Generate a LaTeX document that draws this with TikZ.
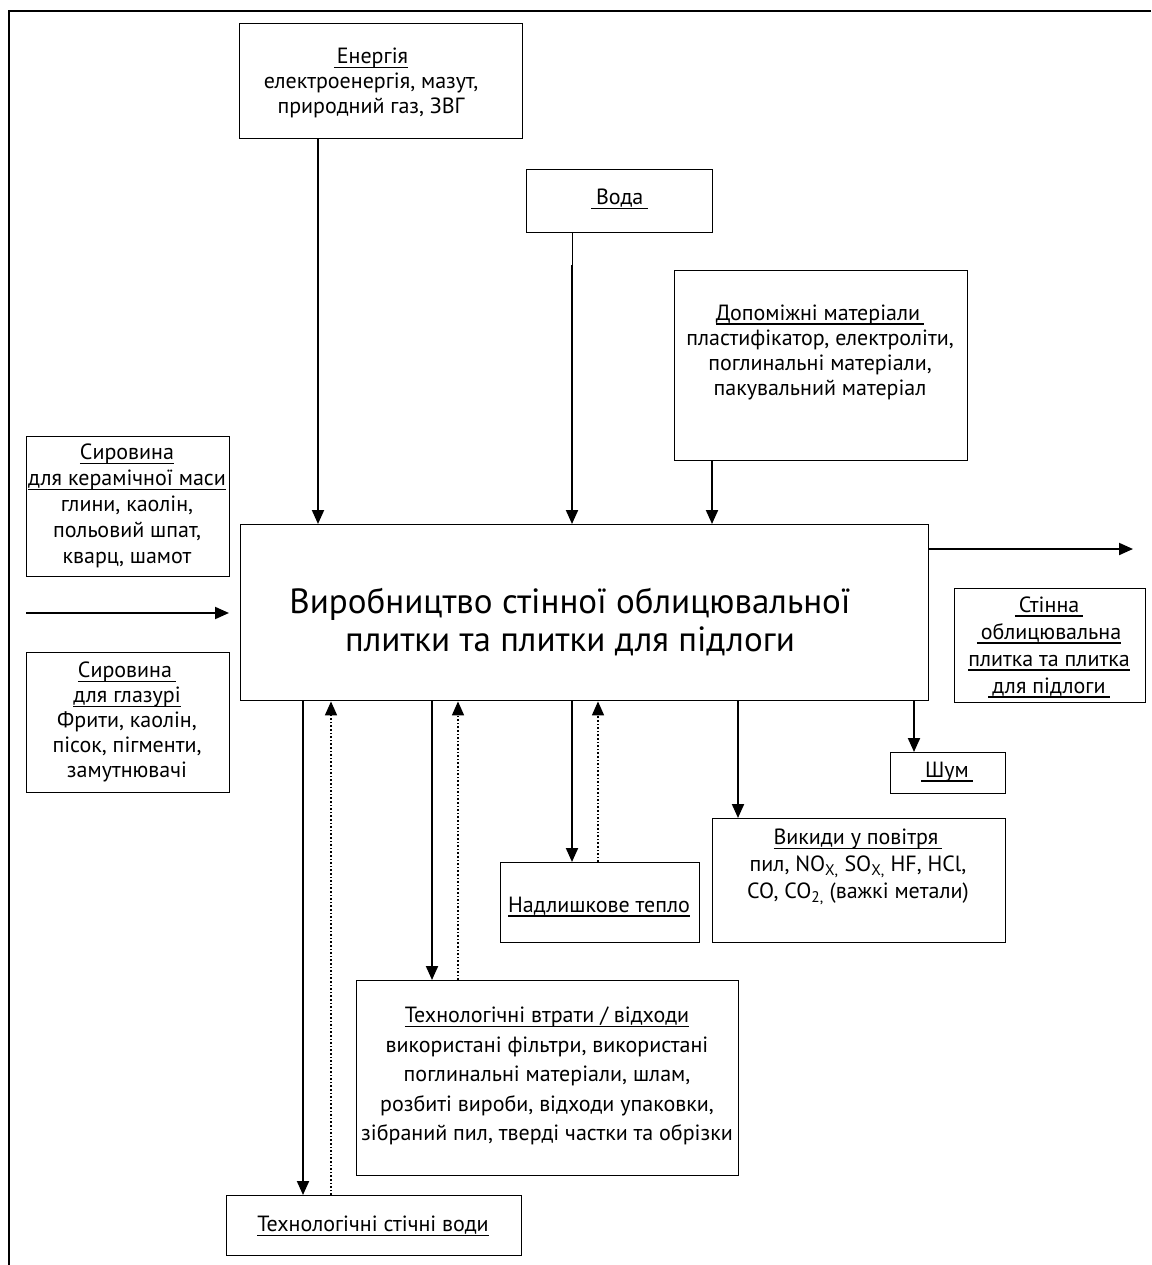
\documentclass[tikz,border=0pt]{standalone}
\usepackage{fontspec}
\setmainfont{PT Sans}
\usetikzlibrary{arrows.meta,calc}

% underline at a fixed depth below the baseline
\newcommand\uln[1]{\setbox0\hbox{#1}\rlap{\rule[-4.5pt]{\wd0}{1.5pt}}\box0}

\tikzset{
  box/.style={draw, line width=1.4pt, inner sep=0pt, anchor=north west},
  txt/.style={align=center, inner sep=0pt, font=\fontsize{22}{25}\selectfont},
  arr/.style={line width=2pt, -{Triangle[length=14pt,width=12pt]}},
  ret/.style={line width=1.6pt, dotted, -{Triangle[length=14pt,width=12pt]}},
}

\begin{document}
\begin{tikzpicture}[x=1pt,y=-1pt]
\useasboundingbox (0,0) rectangle (1151,1265);

% open frame
\draw[line width=1.4pt] (9,1265) -- (9,11) -- (1151,11);

% boxes
\node[box, minimum width=283, minimum height=115] (energy) at (239,23) {};
\node[box, minimum width=186, minimum height=63]  (water)  at (526,169) {};
\node[box, minimum width=293, minimum height=190] (aux)    at (674,270) {};
\node[box, minimum width=688, minimum height=176] (main)   at (240,524) {};
\node[box, minimum width=203, minimum height=140] (ceram)  at (26,436) {};
\node[box, minimum width=203, minimum height=140] (glaze)  at (26,652) {};
\node[box, minimum width=191, minimum height=114] (prod)   at (954,588) {};
\node[box, minimum width=115, minimum height=41]  (noise)  at (890,752) {};
\node[box, minimum width=293, minimum height=124] (air)    at (712,818) {};
\node[box, minimum width=199, minimum height=80]  (heat)   at (500,862) {};
\node[box, minimum width=382, minimum height=195] (waste)  at (356,980) {};
\node[box, minimum width=295, minimum height=60]  (wwater) at (226,1195) {};

% texts
\node[txt] (energyT) at (371,83) {\uln{\hspace{3pt}Енергія}\\електроенергія, мазут,\\природний газ, ЗВГ};
\node[txt] (waterT) at ($(water.center)+(0,-2)$) {\uln{\hspace{5pt}Вода\hspace{5pt}}};
\node[txt] (auxT) at (820,352) {\uln{Допоміжні матеріали\hspace{4pt}}\\пластифікатор, електроліти,\\поглинальні матеріали,\\пакувальний матеріал};
\node[align=center, inner sep=0pt, font=\fontsize{35}{38}\selectfont] (mainT) at (570,622)
  {Виробництво стінної облицювальної\\плитки та плитки для підлоги};
\node[txt, font=\fontsize{22}{26}\selectfont] (ceramT) at (127,506) {\uln{Сировина}\\\uln{для керамічної маси}\\глини, каолін,\\польовий шпат,\\кварц, шамот};
\node[txt] (glazeT) at (127,722) {\uln{Сировина\hspace{4pt}}\\\uln{для глазурі}\\Фрити, каолін,\\пісок, пігменти,\\замутнювачі};
\node[txt, font=\fontsize{22}{27}\selectfont] (prodT) at (1049,647) {\uln{\hspace{4pt}Стінна\hspace{4pt}}\\\uln{\hspace{4pt}облицювальна}\\\uln{плитка та плитка}\\\uln{\hspace{4pt}для підлоги\hspace{4pt}}};
\node[txt] (noiseT) at (947,772) {\uln{\hspace{4pt}Шум\hspace{4pt}}};
\node[txt, font=\fontsize{22}{27}\selectfont] (airT) at (858,867) {\uln{Викиди у повітря\hspace{4pt}}\\пил, NO\textsubscript{X,} SO\textsubscript{X,} HF, HCl,\\CO, CO\textsubscript{2,} (важкі метали)};
\node[txt] (heatT) at (599,907) {\uln{Надлишкове тепло}};
\node[txt, font=\fontsize{22}{29.5}\selectfont] (wasteT) at (547,1076) {\uln{Технологічні втрати / відходи}\\використані фільтри, використані\\поглинальні матеріали, шлам,\\розбиті вироби, відходи упаковки,\\зібраний пил, тверді частки та обрізки};
\node[txt] (wwaterT) at (373,1226) {\uln{Технологічні стічні води}};

% inputs from above
\draw[arr] (energy.south -| 318,0) -- (main.north -| 318,0);
\coordinate (waterJoin) at (572,265);
\draw[line width=1pt] (water.south -| waterJoin) -- (waterJoin);
\draw[arr] (waterJoin) -- (main.north -| waterJoin);
\draw[arr] (aux.south -| 712,0) -- (main.north -| 712,0);

% raw materials in, product out
\coordinate (inStart) at (26,613);
\coordinate (inEnd) at (229,613);
\draw[arr] (inStart) -- (inEnd);
\coordinate (outEnd) at (1133,549);
\draw[arr] (main.east |- outEnd) -- (outEnd);

% outputs below
\draw[arr] (main.south -| 914,0) -- (noise.north -| 914,0);
\draw[arr] (main.south -| 738,0) -- (air.north -| 738,0);
\draw[arr] (main.south -| 572,0) -- (heat.north -| 572,0);
\draw[ret] (heat.north -| 598,0) -- (main.south -| 598,0);
\draw[arr] (main.south -| 432,0) -- (waste.north -| 432,0);
\draw[ret] (waste.north -| 458,0) -- (main.south -| 458,0);
\draw[arr] (main.south -| 303,0) -- (wwater.north -| 303,0);
\draw[ret] (wwater.north -| 331,0) -- (main.south -| 331,0);
\end{tikzpicture}
\end{document}
